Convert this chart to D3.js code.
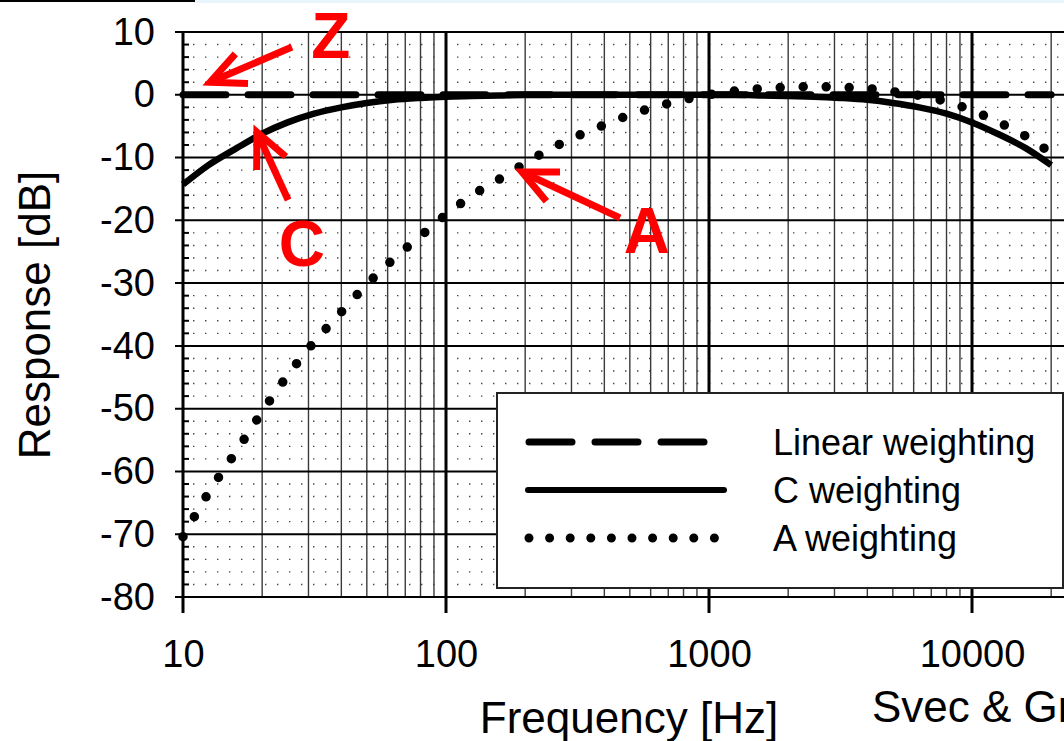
<!DOCTYPE html>
<html><head><meta charset="utf-8">
<script src="https://cdn.jsdelivr.net/npm/d3@7"></script>
<style>
html,body{margin:0;padding:0;background:#fff;overflow:hidden}
text{font-family:"Liberation Sans",Arial,sans-serif}
</style></head>
<body>
<svg id="c" width="1064" height="741"></svg>
<script>
// ---- data ----
const freqs = [10,12.5,16,20,25,31.5,40,50,63,80,100,125,160,200,250,315,400,500,630,800,1000,1250,1600,2000,2500,3150,4000,5000,6300,8000,10000,12500,16000,20000];
const linearValues = freqs.map(() => 0);
const cValues = [-14.3,-11.2,-8.5,-6.2,-4.4,-3.0,-2.0,-1.3,-0.8,-0.5,-0.3,-0.2,-0.1,0,0,0,0,0,0,0,0,0,-0.1,-0.2,-0.3,-0.5,-0.8,-1.3,-2.0,-3.0,-4.4,-6.2,-8.5,-11.2];
const aValues = [-70.4,-63.4,-56.7,-50.5,-44.7,-39.4,-34.6,-30.2,-26.2,-22.5,-19.1,-16.1,-13.4,-10.9,-8.6,-6.6,-4.8,-3.2,-1.9,-0.8,0,0.6,1.0,1.2,1.3,1.2,1.0,0.5,-0.1,-1.1,-2.5,-4.3,-6.6,-9.3];
const xTickValues = [10,100,1000,10000];
const xTickLabels = ["10","100","1000","10000"];
const yTickValues = [-80,-70,-60,-50,-40,-30,-20,-10,0,10];
const yTickLabels = ["-80","-70","-60","-50","-40","-30","-20","-10","0","10"];
const legendLabels = ["Linear weighting","C weighting","A weighting"];
const annotations = [
  {label:"Z", tail:[25.96,7.6], tip:[12.67,2.0], text:[36.5,5.86]},
  {label:"C", tail:[25.1,-16.75], tip:[19.1,-5.92], text:[28.3,-27.26]},
  {label:"A", tail:[458.7,-19.6], tip:[194.5,-12.3], text:[580.9,-25.2]}
];

// ---- layout ----
const svg = d3.select("#c");
const L = 183, T = 32, B = 597;
const x = d3.scaleLog().domain([10, 100000]).range([L, L + 263*4]);
const y = d3.scaleLinear().domain([-80, 10]).range([B, T]);
const R = 1064;

svg.append("rect").attr("x",0).attr("y",0).attr("width",1064).attr("height",741).attr("fill","#fff");
svg.append("rect").attr("x",195).attr("y",0).attr("width",869).attr("height",3).attr("fill","#eaf5fb");
svg.append("rect").attr("x",0).attr("y",0).attr("width",195).attr("height",2).attr("fill","#000");

const g = svg.append("g");

// minor horizontal dotted grid
const minorY = d3.range(-80, 10, 2).filter(v => v % 10 !== 0);
g.selectAll(".dotgrid").data(minorY).join("line")
  .attr("x1", L+10).attr("x2", R).attr("y1", d=>y(d)).attr("y2", d=>y(d))
  .attr("stroke","#444").attr("stroke-width",1.4).attr("stroke-dasharray","1.4 10.6");
g.selectAll(".mtick").data(minorY).join("line")
  .attr("x1", L).attr("x2", L+6).attr("y1", d=>y(d)).attr("y2", d=>y(d))
  .attr("stroke","#000").attr("stroke-width",2);

// vertical grid
const vLines = [];
[10,100,1000,10000].forEach(dec => { for (let k=1;k<10;k++) vLines.push(dec*k); });
vLines.push(100000);
g.selectAll(".vgrid").data(vLines.filter(v => Math.log10(v)%1 !== 0)).join("line")
  .attr("x1", d=>x(d)).attr("x2", d=>x(d)).attr("y1", T).attr("y2", B)
  .attr("stroke","#3a3a3a").attr("stroke-width",1.4);
g.selectAll(".vdec").data(xTickValues).join("line")
  .attr("x1", d=>x(d)).attr("x2", d=>x(d)).attr("y1", T).attr("y2", B+16)
  .attr("stroke","#000").attr("stroke-width",3);

// major horizontal grid
g.selectAll(".hgrid").data(yTickValues).join("line")
  .attr("x1", L-8).attr("x2", R).attr("y1", d=>y(d)).attr("y2", d=>y(d))
  .attr("stroke","#000").attr("stroke-width",2);

// axes labels
const yAxis = d3.axisLeft(y).tickValues(yTickValues).tickSize(0).tickPadding(28)
  .tickFormat((d,i)=>yTickLabels[i]);
const ya = svg.append("g").attr("transform",`translate(${L},0)`).call(yAxis);
ya.select(".domain").remove();
ya.selectAll("text").attr("font-size",38).attr("fill","#000").attr("font-family","Liberation Sans, Arial, sans-serif");

const xAxis = d3.axisBottom(x).tickValues(xTickValues).tickSize(0).tickPadding(43)
  .tickFormat((d,i)=>xTickLabels[i]);
const xa = svg.append("g").attr("transform",`translate(0,${B})`).call(xAxis);
xa.select(".domain").remove();
xa.selectAll("text").attr("font-size",38).attr("fill","#000").attr("font-family","Liberation Sans, Arial, sans-serif");

// curves
const lineGen = vals => d3.line().curve(d3.curveMonotoneX)
  .x((d,i)=>x(freqs[i])).y(d=>y(d))(vals);
svg.append("path").attr("d", lineGen(cValues)).attr("fill","none")
  .attr("stroke","#000").attr("stroke-width",6.5);
svg.append("path").attr("d", lineGen(linearValues)).attr("fill","none")
  .attr("stroke","#000").attr("stroke-width",7).attr("stroke-linecap","round")
  .attr("stroke-dasharray","43 22");
svg.append("path").attr("d", lineGen(aValues)).attr("fill","none")
  .attr("stroke","#000").attr("stroke-width",9.5).attr("stroke-linecap","round")
  .attr("stroke-dasharray","0 23");

// legend
const lg = svg.append("g");
lg.append("rect").attr("x",497).attr("y",393).attr("width",566).attr("height",195)
  .attr("fill","#fff").attr("stroke","#222").attr("stroke-width",2);
const legY = [442, 490, 538];
lg.append("line").attr("x1",529).attr("x2",705).attr("y1",legY[0]).attr("y2",legY[0])
  .attr("stroke","#000").attr("stroke-width",7).attr("stroke-linecap","round").attr("stroke-dasharray","43 23");
lg.append("line").attr("x1",528).attr("x2",724).attr("y1",legY[1]).attr("y2",legY[1])
  .attr("stroke","#000").attr("stroke-width",6).attr("stroke-linecap","round");
lg.append("line").attr("x1",529).attr("x2",716).attr("y1",legY[2]).attr("y2",legY[2])
  .attr("stroke","#000").attr("stroke-width",9).attr("stroke-linecap","round").attr("stroke-dasharray","0 20.6");
lg.selectAll("text").data(legendLabels).join("text")
  .attr("x",773).attr("y",(d,i)=>legY[i]+13).attr("font-size",36).attr("fill","#000").text(d=>d);

// axis titles
svg.append("text").attr("x",629).attr("y",733).attr("text-anchor","middle")
  .attr("font-size",44).attr("fill","#000").text("Frequency [Hz]");
svg.append("text").attr("transform","translate(50,315) rotate(-90)").attr("text-anchor","middle")
  .attr("font-size",44).attr("fill","#000").text("Response [dB]");
svg.append("text").attr("x",872).attr("y",722).attr("font-size",44).attr("fill","#000").text("Svec & Gr");

// annotations
const ann = svg.append("g");
annotations.forEach(a => {
  const tx = x(a.tip[0]), ty = y(a.tip[1]);
  const sx = x(a.tail[0]), sy = y(a.tail[1]);
  const ang = Math.atan2(sy-ty, sx-tx);
  const bl = 38, spread = 25*Math.PI/180;
  ann.append("line").attr("x1",sx).attr("y1",sy).attr("x2",tx+3*Math.cos(ang)).attr("y2",ty+3*Math.sin(ang))
    .attr("stroke","#ff0000").attr("stroke-width",7);
  const p = [[tx+bl*Math.cos(ang-spread), ty+bl*Math.sin(ang-spread)],[tx,ty],[tx+bl*Math.cos(ang+spread), ty+bl*Math.sin(ang+spread)]];
  ann.append("polyline").attr("points", p.map(q=>q.join(",")).join(" "))
    .attr("fill","none").attr("stroke","#ff0000").attr("stroke-width",7).attr("stroke-linejoin","miter").attr("stroke-miterlimit",10);
  ann.append("text").attr("x",x(a.text[0])).attr("y",y(a.text[1])).attr("text-anchor","middle")
    .attr("font-size",64).attr("font-weight","bold").attr("fill","#ff0000").text(a.label);
});
</script>
</body></html>
